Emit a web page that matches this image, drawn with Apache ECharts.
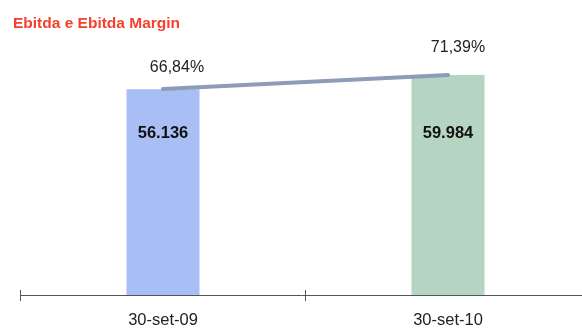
<!DOCTYPE html>
<html>
<head>
<meta charset="utf-8">
<script src="https://cdn.jsdelivr.net/npm/echarts@6/dist/echarts.min.js"></script>
<style>
  html, body { margin: 0; padding: 0; background: #fff; }
  #chart { width: 582px; height: 330px; }
</style>
</head>
<body>
<div id="chart"></div>
<script>
// Ebitda (bars) and Ebitda margin (line, %)
const categories = ['30-set-09', '30-set-10'];
const ebitda = [56.136, 59.984];
const ebitdaMargin = [66.84, 71.39];
const barColors = ['#a8bef5', '#b5d4c1'];

const fmtThousands = v => v.toFixed(3);
const fmtPercent = v => v.toFixed(2).replace('.', ',') + '%';

const chart = echarts.init(document.getElementById('chart'));
const font = 'Liberation Sans, Arial, Helvetica, sans-serif';

chart.setOption({
  animation: false,
  textStyle: { fontFamily: font },
  title: {
    text: 'Ebitda e Ebitda Margin',
    left: 8, top: 11,
    textStyle: { color: '#f4402c', fontSize: 15.5, fontWeight: 'bold', fontFamily: font }
  },
  grid: { left: 20.5, width: 570, top: 38.3, bottom: 35, outerBoundsMode: 'none', containLabel: false },
  xAxis: [{
    type: 'category',
    data: categories,
    axisLine: { lineStyle: { color: '#555', width: 1 } },
    axisTick: { show: true, length: 6, lineStyle: { color: '#555' } },
    axisLabel: { color: '#222', fontSize: 16.5, margin: 17, fontFamily: font }
  }, {
    type: 'category',
    data: categories,
    position: 'bottom',
    offset: 0,
    axisLine: { show: false },
    axisTick: { show: true, inside: true, length: 5, lineStyle: { color: '#555' } },
    axisLabel: { show: false }
  }],
  yAxis: [{
    type: 'value', min: 0, max: 70,
    show: false, splitLine: { show: false }
  }, {
    type: 'value', min: 0, max: 83.3,
    show: false, splitLine: { show: false }
  }],
  series: [{
    type: 'bar',
    barWidth: 73,
    data: ebitda.map((v, i) => ({
      value: v,
      itemStyle: { color: barColors[i] },
      label: { position: ['50%', i === 0 ? 44 : 58] }
    })),
    label: {
      show: true,
      align: 'center', verticalAlign: 'middle',
      color: '#111', fontSize: 16.5, fontWeight: 'bold', fontFamily: font,
      formatter: p => fmtThousands(p.value)
    }
  }, {
    type: 'line',
    yAxisIndex: 1,
    data: ebitdaMargin.map((v, i) => ({
      value: v,
      label: { offset: i === 0 ? [14, -21] : [10, -27] }
    })),
    symbol: 'circle',
    symbolSize: 1,
    showSymbol: true,
    itemStyle: { color: '#8e9bb9' },
    z: 5,
    lineStyle: { color: '#8e9bb9', width: 4, cap: 'round' },
    label: {
      show: true, position: 'inside',
      color: '#222', fontSize: 16, fontFamily: font,
      formatter: p => fmtPercent(p.value)
    }
  }]
});
</script>
</body>
</html>
